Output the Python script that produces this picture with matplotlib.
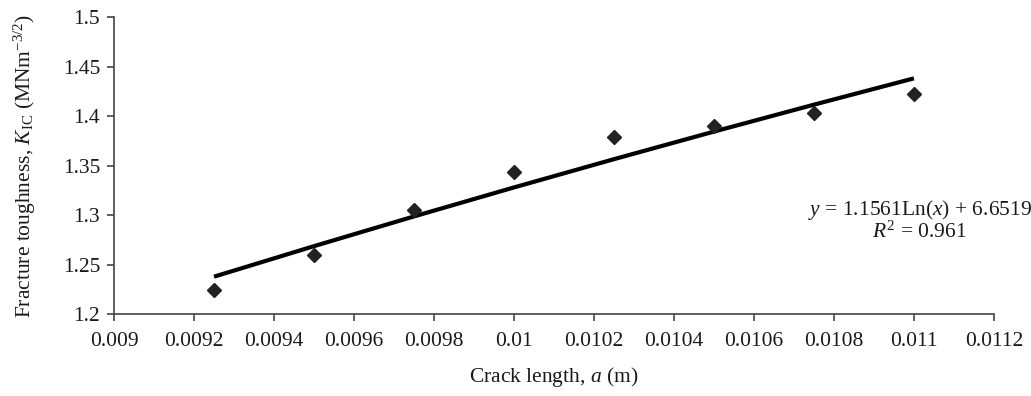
import numpy as np
import matplotlib
matplotlib.use("Agg")
import matplotlib.pyplot as plt

plt.rcParams['font.family'] = ['Liberation Serif', 'DejaVu Serif']
plt.rcParams['mathtext.fontset'] = 'custom'
plt.rcParams['mathtext.rm'] = 'Liberation Serif'
plt.rcParams['mathtext.it'] = 'Liberation Serif:italic'

# crack length (m) and fracture toughness K_IC
crack_length = [0.00925, 0.0095, 0.00975, 0.01, 0.01025, 0.0105, 0.01075, 0.011]
toughness = [1.224, 1.260, 1.305, 1.343, 1.379, 1.390, 1.403, 1.422]

# logarithmic trend line coefficients as printed on the chart
fit_a = 1.1561
fit_b = 6.6519
r_squared = 0.961

x_ticks = [0.009, 0.0092, 0.0094, 0.0096, 0.0098, 0.01, 0.0102, 0.0104,
           0.0106, 0.0108, 0.011, 0.0112]
x_labels = ["0.009", "0.0092", "0.0094", "0.0096", "0.0098", "0.01", "0.0102",
            "0.0104", "0.0106", "0.0108", "0.011", "0.0112"]
y_ticks = [1.2, 1.25, 1.3, 1.35, 1.4, 1.45, 1.5]
y_labels = ["1.2", "1.25", "1.3", "1.35", "1.4", "1.45", "1.5"]

fs = 15.5
txt = "#1a1a1a"

fig = plt.figure(figsize=(10.31, 3.96), dpi=100)
ax = fig.add_axes([0.1106, 0.207, 0.8534, 0.750])

xs = np.array(crack_length)
trend = fit_a * np.log(xs) + fit_b
ax.plot(xs, trend, color="black", lw=3.0, solid_capstyle="butt", zorder=2)
ax.plot(crack_length, toughness, linestyle="none", marker="D", ms=7.5,
        color="#222222", zorder=3)

ax.set_xlim(0.009, 0.0112)
ax.set_ylim(1.2, 1.5)
ax.set_xticks(x_ticks)
ax.set_xticklabels(x_labels)
ax.set_yticks(y_ticks)
ax.set_yticklabels(y_labels)

for s in ["top", "right"]:
    ax.spines[s].set_visible(False)
for s in ["left", "bottom"]:
    ax.spines[s].set_color("#444444")
    ax.spines[s].set_linewidth(1.2)
ax.tick_params(axis="both", labelsize=fs, color="#444444", width=1.2,
               length=5, labelcolor=txt)
ax.tick_params(axis="x", pad=8)
ax.tick_params(axis="y", pad=5)

ax.set_xlabel("Crack length, $\\it{a}$ (m)", fontsize=fs, color=txt,
              labelpad=10)
ax.set_ylabel("Fracture toughness, $\\it{K}_{\\rm{IC}}$ (MNm$^{-3/2}$)",
              fontsize=fs, color=txt, labelpad=18)

fig.text(0.892, 0.443,
         "$\\it{y}$ = %.4fLn($\\it{x}$) + %.4f\n$\\it{R}^{2}$ = %.3f"
         % (fit_a, fit_b, r_squared),
         ha="center", va="center", fontsize=fs, color=txt,
         linespacing=0.95)

fig.savefig("out.png", dpi=100)
